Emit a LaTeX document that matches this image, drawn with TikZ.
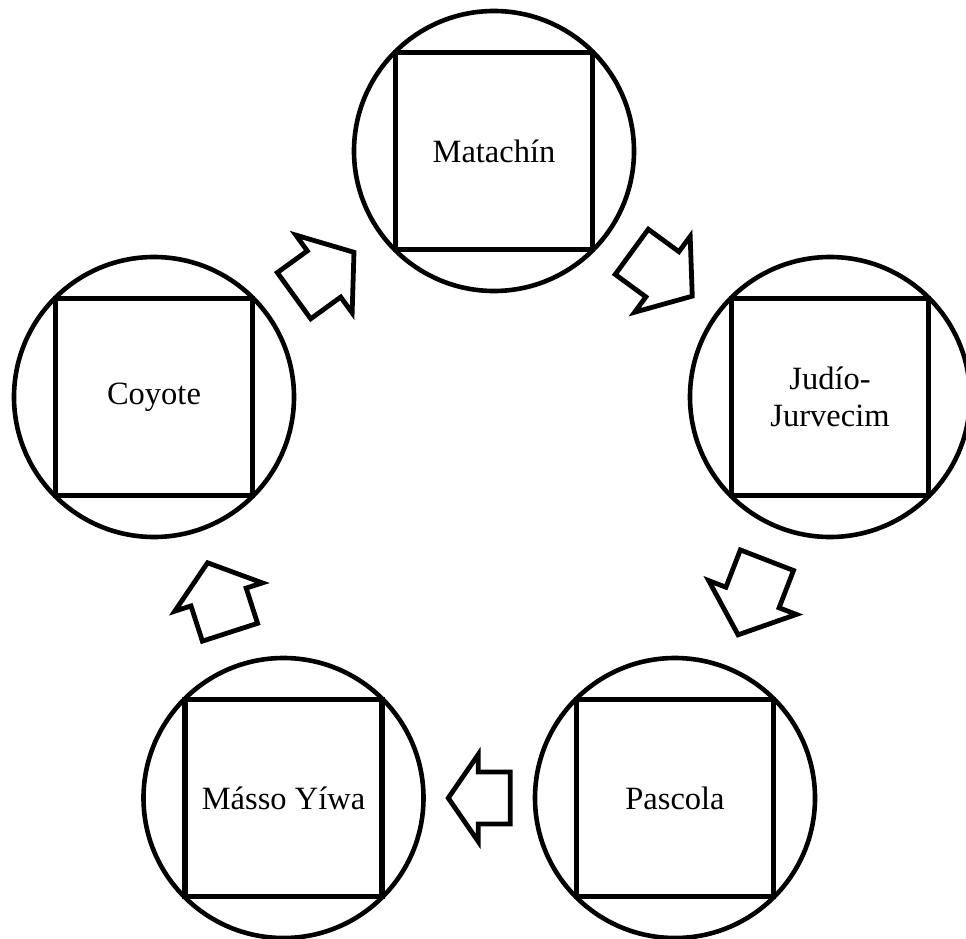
\documentclass[tikz,border=0pt]{standalone}
\usepackage{fontspec}
\setmainfont{Liberation Serif}
\usetikzlibrary{calc}
\tikzset{
  ring/.style={circle, draw, line width=4.6pt, minimum size=280pt, inner sep=0pt},
  card/.style={draw, line width=5.6pt, minimum size=197pt, inner sep=0pt, align=center,
    font=\fontsize{32.5}{37}\selectfont},
  arrowline/.style={draw, line width=4.8pt, line join=miter, fill=white},
  pics/blkarrow/.style n args={4}{code={
    \path[arrowline] (-#1/2, #4/2) -- (#1/2-#2, #4/2) -- (#1/2-#2, #3/2) -- (#1/2, 0)
      -- (#1/2-#2, -#3/2) -- (#1/2-#2, -#4/2) -- (-#1/2, -#4/2) -- cycle;
  }}
}
\begin{document}
\begin{tikzpicture}[x=1pt,y=-1pt]
\useasboundingbox (0,0) rectangle (966,939);
% circles
\node[ring] (mat) at (494,151) {};
\node[ring] (jud) at (830,397) {};
\node[ring] (pas) at (675,798) {};
\node[ring] (mas) at (283.5,798) {};
\node[ring] (coy) at (154,397) {};
% squares with labels
\node[card] (matbox) at (mat.center) {Matachín};
\node[card] (judbox) at (jud.center) {Judío-\\Jurvecim};
\node[card] (pasbox) at (pas.center) {Pascola};
\node[card] (masbox) at (mas.center) {Másso Yíwa};
\node[card] (coybox) at (coy.center) {Coyote};
% block arrows
\path let \p1=($(mat.center)-(coy.center)$), \n1={atan2(\y1,\x1)} in
  ($(coy.center)!0.5!(mat.center)$) pic[rotate=\n1] {blkarrow={74}{37}{96}{57}};
\path let \p1=($(jud.center)-(mat.center)$), \n1={atan2(\y1,\x1)} in
  ($(mat.center)!0.5!(jud.center)$) pic[rotate=\n1] {blkarrow={75}{37}{94}{56}};
\path let \p1=($(pas.center)-(jud.center)$), \n1={atan2(\y1,\x1)} in
  ($(jud.center)!0.5!(pas.center)$) pic[rotate=\n1] {blkarrow={80}{40}{94}{57}};
\path let \p1=($(mas.center)-(pas.center)$), \n1={atan2(\y1,\x1)} in
  ($(pas.center)!0.5!(mas.center)$) pic[rotate=\n1] {blkarrow={62}{30}{87}{52}};
\path let \p1=($(coy.center)-(mas.center)$), \n1={atan2(\y1,\x1)} in
  ($(mas.center)!0.5!(coy.center)$) pic[rotate=\n1] {blkarrow={73}{36}{92}{58}};
\end{tikzpicture}
\end{document}
